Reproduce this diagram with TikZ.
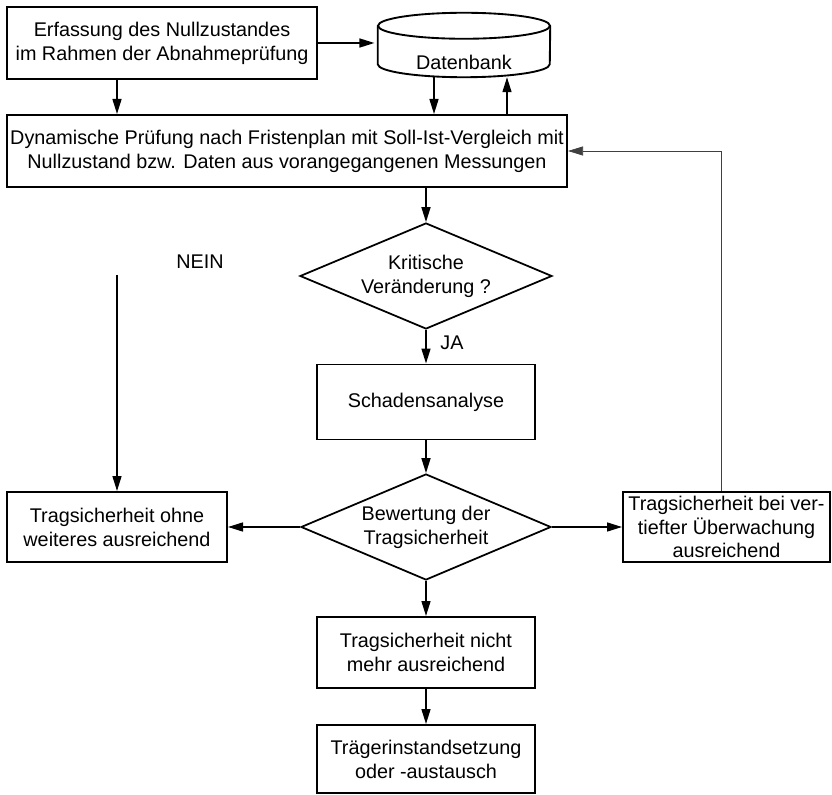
\documentclass[tikz,border=0pt]{standalone}
\usepackage{fontspec}
\setmainfont{Liberation Sans}
\usetikzlibrary{arrows.meta, positioning, shapes.geometric, calc}
\newcommand{\flowfont}{\fontsize{16.9}{20.4}\selectfont}
\tikzset{
  flowbox/.style={draw, line width=1.7pt, align=center, font=\flowfont, inner sep=0pt},
  flowdia/.style={draw, diamond, line width=1.5pt, align=center, font=\flowfont, inner sep=0pt, aspect=2.4},
  flowarr/.style={-{Triangle[length=0.45cm,width=0.27cm]}, line width=1.3pt},
  fbline/.style={-{Triangle[length=0.45cm,width=0.27cm]}, line width=0.6pt, black!75},
  dbline/.style={line width=1.6pt},
}

\begin{document}
\begin{tikzpicture}[x=0.03cm, y=-0.03cm]
\useasboundingbox (0,0) rectangle (832,795);

% ===== Nullzustand und Datenbank (oben) =====
\node[flowbox, minimum width=9.3cm, minimum height=2.16cm]
      (erf) at (162,43) {Erfassung des Nullzustandes\\im Rahmen der Abnahmeprüfung};

\node[minimum width=5.16cm, minimum height=1.92cm, inner sep=0pt] (db) at (464,45) {};
\draw[dbline] ([yshift=-0.39cm]db.north) ellipse[x radius=2.58cm, y radius=0.39cm];
\draw[dbline] ([yshift=-0.39cm]db.north west) -- ([yshift=0.39cm]db.south west)
      arc[start angle=180, end angle=360, x radius=2.58cm, y radius=0.39cm]
      -- ([yshift=-0.39cm]db.north east);
\node[font=\flowfont] (dbtext) at (464,62) {Datenbank};

\draw[flowarr] (erf.east) -- ([xshift=-0.1cm]erf.east -| db.west);

% ===== Dynamische Pruefung =====
\node[flowbox, minimum width=16.8cm, minimum height=2.16cm]
      (dyn) at (287,151) {Dynamische Prüfung nach Fristenplan mit Soll-Ist-Vergleich mit\\Nullzustand bzw. Daten aus vorangegangenen Messungen};

\coordinate (erfdown) at (117,0);
\coordinate (dbdown) at (434,0);
\coordinate (dbup) at (507,0);
\draw[flowarr] (erf.south -| erfdown) -- (dyn.north -| erfdown);
\draw[flowarr] (db.south -| dbdown) -- (dyn.north -| dbdown);
\draw[flowarr] (dyn.north -| dbup) -- (db.south -| dbup);

% ===== Kritische Veraenderung =====
\node[flowdia, minimum width=7.56cm, minimum height=3.18cm]
      (krit) at (426,276) {Kritische\\Veränderung ?};
\draw[flowarr] (dyn.south -| krit.north) -- (krit.north);

\node[font=\flowfont] (nein) at (200,262) {NEIN};
\coordinate (neinstart) at (117,275);

\node[flowbox, minimum width=6.54cm, minimum height=2.25cm]
      (schad) at (426,402) {Schadensanalyse};
\draw[flowarr] (krit.south) -- (schad.north);
\node[font=\flowfont] (ja) at (452,343) {JA};

% ===== Bewertung =====
\node[flowdia, minimum width=7.5cm, minimum height=3.18cm]
      (bew) at (426,527) {Bewertung der\\Tragsicherheit};
\draw[flowarr] (schad.south) -- (bew.north);

\node[flowbox, minimum width=6.6cm, minimum height=2.1cm]
      (links) at (117,527) {Tragsicherheit ohne\\weiteres ausreichend};
\node[flowbox, minimum width=6.21cm, minimum height=2.1cm]
      (rechts) at (726.5,527) {Tragsicherheit bei ver-\\tiefter Überwachung\\ausreichend};

\draw[flowarr] (neinstart) -- (links.north);
\draw[flowarr] (bew.west) -- (links.east);
\draw[flowarr] (bew.east) -- (rechts.west);

% Rueckfuehrung
\coordinate (fbx) at (721,0);
\draw[fbline] (rechts.north -| fbx) |- (dyn.east);

% ===== Unten =====
\node[flowbox, minimum width=6.54cm, minimum height=2.13cm]
      (nicht) at (426,652.5) {Tragsicherheit nicht\\mehr ausreichend};
\node[flowbox, minimum width=6.54cm, minimum height=2.04cm]
      (traeger) at (426,759) {Trägerinstandsetzung\\oder -austausch};
\draw[flowarr] (bew.south) -- (nicht.north);
\draw[flowarr] (nicht.south) -- (traeger.north);

\end{tikzpicture}
\end{document}
